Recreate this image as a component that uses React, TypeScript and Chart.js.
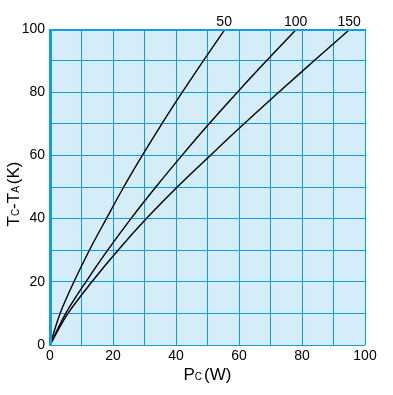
import React, { useEffect, useRef } from "react";
import { Chart, registerables } from "chart.js";

Chart.register(...registerables);

// Temperature rise Tc-Ta (K) sampled at each grid line
const tempRise = [0, 10, 20, 30, 40, 50, 60, 70, 80, 90, 100];
// Power dissipation Pc (W) for each curve at those temperatures
const power50 = [0, 3.2, 7.6, 12.5, 17.9, 23.4, 29.3, 35.5, 42.0, 48.7, 55.6];
const power100 = [0, 5.0, 11.4, 18.3, 25.7, 33.6, 41.9, 50.5, 59.5, 68.8, 78.3];
const power150 = [0, 5.7, 13.3, 21.6, 30.6, 40.4, 50.9, 61.6, 72.6, 83.9, 95.3];
const curveLabels = ["50", "100", "150"];
const xTicks = [0, 20, 40, 60, 80, 100];
const yTicks = [0, 20, 40, 60, 80, 100];

const FONT = "'Liberation Sans', Arial, Helvetica, sans-serif";
const GRID = "#0a9fe0";
const BG = "#d5ecf9";

function drawRich(ctx: CanvasRenderingContext2D, parts: [string, number, number][], x: number, y: number) {
  let total = 0;
  for (const [t, s, g] of parts) {
    ctx.font = `${s}px ${FONT}`;
    total += ctx.measureText(t).width + g;
  }
  let cx = x - total / 2;
  ctx.textAlign = "left";
  ctx.textBaseline = "alphabetic";
  for (const [t, s, g] of parts) {
    ctx.font = `${s}px ${FONT}`;
    ctx.fillText(t, cx, y);
    cx += ctx.measureText(t).width + g;
  }
}

const decor = {
  id: "decor",
  beforeDraw(chart: any) {
    const { ctx, chartArea: a } = chart;
    ctx.save();
    ctx.fillStyle = BG;
    ctx.fillRect(a.left, a.top, a.right - a.left, a.bottom - a.top);
    ctx.restore();
  },
  afterDraw(chart: any) {
    const { ctx, chartArea: a, scales } = chart;
    ctx.save();
    ctx.fillStyle = GRID;
    ctx.fillRect(a.left - 1, a.top, 3, a.bottom - a.top + 1);
    ctx.fillRect(a.left - 1, a.top, a.right - a.left + 2, 2);
    ctx.fillStyle = "#000";
    ctx.font = `14px ${FONT}`;
    ctx.textAlign = "center";
    ctx.textBaseline = "alphabetic";
    const ends = [power50, power100, power150];
    ends.forEach((arr, i) => {
      const px = scales.x.getPixelForValue(arr[arr.length - 1]);
      ctx.fillText(curveLabels[i], px - 1, a.top - 3);
    });
    drawRich(ctx, [["P", 17, 0], ["C", 10, 2], ["(W)", 17, 0]], (a.left + a.right) / 2, 380);
    ctx.translate(19, 194);
    ctx.rotate(-Math.PI / 2);
    drawRich(ctx, [["T", 17, 0], ["C", 10, 0], ["-", 17, 0], ["T", 17, 0], ["A", 10, 2], ["(K)", 17, 0]], 0, 0);
    ctx.restore();
  },
};

export default function App() {
  const ref = useRef<HTMLCanvasElement>(null);
  useEffect(() => {
    if (!ref.current) return;
    const mk = (arr: number[]) => arr.map((p, i) => ({ x: p, y: tempRise[i] }));
    const ds = [power50, power100, power150].map((arr, i) => ({
      label: curveLabels[i],
      data: mk(arr),
      borderColor: "#000",
      borderWidth: 1.4,
      pointRadius: 0,
      fill: false,
      cubicInterpolationMode: "monotone" as const,
    }));
    const chart = new Chart(ref.current, {
      type: "line",
      data: { datasets: ds },
      options: {
        indexAxis: "y",
        animation: false,
        responsive: false,
        devicePixelRatio: 1,
        layout: { padding: { top: 29, right: 28, left: 0, bottom: 0 } },
        plugins: { legend: { display: false }, tooltip: { enabled: false } },
        scales: {
          x: {
            type: "linear",
            min: 0,
            max: 100,
            afterFit: (s: any) => {
              s.height = 50;
            },
            ticks: {
              stepSize: 10,
              padding: 3,
              color: "#000",
              font: { family: FONT, size: 14 },
              maxRotation: 0,
              autoSkip: false,
              callback: (v: any) => (xTicks.includes(Number(v)) ? String(v) : ""),
            },
            grid: { color: GRID, lineWidth: 1, drawTicks: false },
            border: { display: false },
          },
          y: {
            type: "linear",
            min: 0,
            max: 100,
            afterFit: (s: any) => {
              s.width = 50;
            },
            ticks: {
              stepSize: 10,
              padding: 5,
              color: "#000",
              font: { family: FONT, size: 14 },
              autoSkip: false,
              callback: (v: any) => (yTicks.includes(Number(v)) ? String(v) : ""),
            },
            grid: { color: GRID, lineWidth: 1, drawTicks: false },
            border: { display: false },
          },
        },
      },
      plugins: [decor],
    });
    return () => chart.destroy();
  }, []);
  return (
    <div style={{ position: "fixed", left: 0, top: 0, width: 393, height: 395, background: "#fff" }}>
      <canvas ref={ref} width={393} height={395} style={{ width: 393, height: 395 }} />
    </div>
  );
}
